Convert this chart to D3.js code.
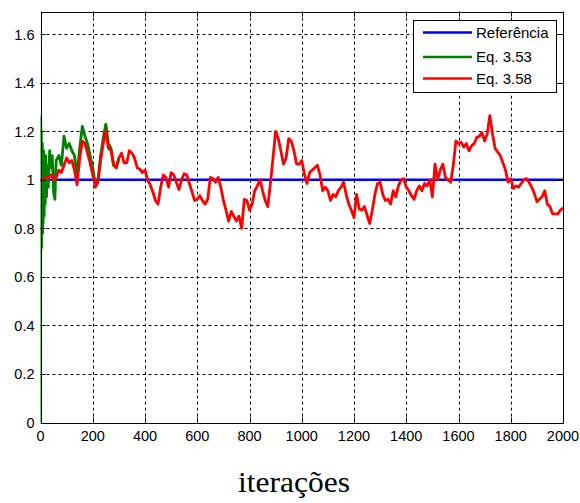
<!DOCTYPE html>
<html>
<head>
<meta charset="utf-8">
<script src="https://cdn.jsdelivr.net/npm/d3@7"></script>
<style>
  html, body { margin: 0; padding: 0; background: #fff; }
  svg { display: block; }
</style>
</head>
<body>
<svg id="chart" width="580" height="503"></svg>
<script>
// ---- data ----
const xTicks = [0, 200, 400, 600, 800, 1000, 1200, 1400, 1600, 1800, 2000];
const yTicks = [0, 0.2, 0.4, 0.6, 0.8, 1, 1.2, 1.4, 1.6];
const yTickLabels = ["0", "0.2", "0.4", "0.6", "0.8", "1", "1.2", "1.4", "1.6"];
const xDomain = [0, 2000];
const yDomain = [0, 1.693];
const seriesNames = ["Referência", "Eq. 3.53", "Eq. 3.58"];
const seriesColors = ["#0000ff", "#008000", "#ff0000"];
const xLabel = "iterações";

// reference
const refIter = [0, 2000];
const refVal = [1, 1];

// Eq. 3.58 (red), every 10 iterations from 0 to 2000
const redStep = 10;
const redVal = [
  1.00, 1.00, 1.01, 1.01, 1.02, 1.00, 1.01, 1.04, 1.03, 1.06,
  1.09, 1.07, 1.08, 1.04, 0.98, 1.09, 1.16, 1.15, 1.11, 1.07,
  1.02, 0.97, 0.99, 1.08, 1.15, 1.20, 1.13, 1.12, 1.06, 1.05,
  1.09, 1.11, 1.07, 1.07, 1.12, 1.11, 1.09, 1.05, 1.045, 1.03,
  1.04, 1.00, 0.98, 0.95, 0.915, 0.90, 0.97, 1.02, 1.01, 0.97,
  1.03, 1.02, 0.99, 0.96, 1.00, 1.025, 1.02, 0.985, 0.95, 0.915,
  0.92, 0.935, 0.915, 0.90, 0.92, 1.01, 1.005, 0.99, 1.01, 0.97,
  0.915, 0.875, 0.83, 0.87, 0.85, 0.83, 0.85, 0.80, 0.92, 0.915,
  0.875, 0.90, 0.955, 0.975, 1.00, 0.955, 0.915, 0.89, 0.985, 1.09,
  1.20, 1.17, 1.12, 1.065, 1.09, 1.17, 1.16, 1.12, 1.065, 1.065,
  1.08, 1.025, 0.985, 1.03, 1.04, 1.05, 1.06, 1.02, 0.955, 0.97,
  0.955, 0.915, 0.94, 0.93, 0.955, 0.97, 0.99, 0.94, 0.90, 0.875,
  0.845, 0.94, 0.88, 0.875, 0.89, 0.855, 0.82, 0.875, 0.94, 0.985,
  0.99, 0.94, 0.915, 0.92, 0.90, 0.955, 0.93, 0.975, 1.00, 1.005,
  0.97, 0.955, 0.935, 0.92, 0.955, 0.975, 0.955, 0.985, 0.975, 1.00,
  0.93, 1.065, 1.00, 1.04, 1.065, 1.01, 1.00, 0.99, 1.06, 1.16,
  1.15, 1.155, 1.135, 1.15, 1.12, 1.14, 1.15, 1.175, 1.18, 1.195,
  1.16, 1.19, 1.265, 1.19, 1.13, 1.115, 1.10, 1.07, 1.04, 0.99,
  1.005, 0.965, 0.975, 0.97, 0.985, 1.00, 1.005, 0.99, 0.97, 0.945,
  0.91, 0.92, 0.93, 0.955, 0.90, 0.89, 0.86, 0.86, 0.86, 0.875,
  0.885
];

// Eq. 3.53 (green) — transient part (after ~280 it coincides with red)
const greenIter = [0, 1, 2, 3, 4, 5, 6, 7, 8, 9, 10, 12, 14, 16, 18, 20, 23, 26, 30, 35,
  40, 45, 50, 55, 60, 70, 80, 90, 100, 110, 120, 130, 140, 150, 160, 170, 180, 190, 200,
  210, 220, 230, 240, 250, 260, 270, 280, 290, 300];
const greenVal = [0, 1.26, 0.75, 1.20, 0.72, 1.10, 0.80, 1.15, 0.78, 1.05, 0.82, 1.12, 0.85, 1.08, 0.90, 1.10, 0.93, 1.06, 0.97, 1.12,
  1.05, 1.10, 0.95, 0.92, 1.08, 1.10, 1.06, 1.18, 1.13, 1.15, 1.12, 1.10, 1.02, 1.13, 1.22, 1.18, 1.15, 1.10, 1.05,
  0.98, 1.00, 1.10, 1.17, 1.23, 1.15, 1.13, 1.06, 1.05, 1.09];

// ---- layout ----
const svg = d3.select("#chart");
const L = 40.5, R = 563, T = 11.7, B = 422.5;
const x = d3.scaleLinear().domain(xDomain).range([L, R]);
const y = d3.scaleLinear().domain(yDomain).range([B, T]);

svg.append("rect").attr("width", 580).attr("height", 503).attr("fill", "#fff");

// grid
const grid = svg.append("g").attr("stroke", "#000").attr("stroke-width", 1)
  .attr("stroke-dasharray", "3,3").attr("fill", "none");
xTicks.filter(t => t > xDomain[0] && t < xDomain[1]).forEach(t => {
  grid.append("line").attr("x1", Math.round(x(t)) + 0.5).attr("x2", Math.round(x(t)) + 0.5)
    .attr("y1", T).attr("y2", B);
});
yTicks.filter(t => t > 0).forEach(t => {
  grid.append("line").attr("y1", Math.round(y(t)) + 0.5).attr("y2", Math.round(y(t)) + 0.5)
    .attr("x1", L).attr("x2", R);
});

// data
svg.append("clipPath").attr("id", "clip").append("rect")
  .attr("x", L).attr("y", T).attr("width", R - L).attr("height", B - T);
const plot = svg.append("g").attr("clip-path", "url(#clip)");
const line = d3.line().x(d => x(d[0])).y(d => y(d[1]));

const refData = refIter.map((t, i) => [t, refVal[i]]);
const greenData = greenIter.map((t, i) => [t, greenVal[i]]);
const redData = redVal.map((v, i) => [i * redStep, v]);

plot.append("path").datum(refData).attr("d", line).attr("fill", "none")
  .attr("stroke", seriesColors[0]).attr("stroke-width", 2.5);
plot.append("path").datum(greenData).attr("d", line).attr("fill", "none")
  .attr("stroke", seriesColors[1]).attr("stroke-width", 2.8).attr("stroke-linejoin", "round");
plot.append("path").datum(redData).attr("d", line).attr("fill", "none")
  .attr("stroke", seriesColors[2]).attr("stroke-width", 2.8).attr("stroke-linejoin", "round");

// axes frame + ticks (MATLAB-style, inward)
const fr = svg.append("g").attr("stroke", "#000").attr("stroke-width", 1).attr("fill", "none");
fr.append("rect").attr("x", Math.round(L) + 0.5).attr("y", Math.round(T) + 0.5)
  .attr("width", Math.round(R) - Math.round(L)).attr("height", Math.round(B) - Math.round(T));
const tl = 5;
xTicks.forEach(t => {
  const px = Math.round(x(t)) + 0.5;
  fr.append("line").attr("x1", px).attr("x2", px).attr("y1", B).attr("y2", B - tl);
  fr.append("line").attr("x1", px).attr("x2", px).attr("y1", T).attr("y2", T + tl);
});
yTicks.forEach(t => {
  const py = Math.round(y(t)) + 0.5;
  fr.append("line").attr("y1", py).attr("y2", py).attr("x1", L).attr("x2", L + tl);
  fr.append("line").attr("y1", py).attr("y2", py).attr("x1", R).attr("x2", R - tl);
});

// tick labels
const font = "'Liberation Sans', Arial, Helvetica, sans-serif";
svg.append("g").selectAll("text").data(xTicks).join("text")
  .attr("x", d => x(d)).attr("y", 441)
  .attr("text-anchor", "middle").attr("font-family", font).attr("font-size", 14.5)
  .attr("fill", "#000").text(d => d);
svg.append("g").selectAll("text").data(yTicks).join("text")
  .attr("x", 34.5).attr("y", d => y(d) + 5.3)
  .attr("text-anchor", "end").attr("font-family", font).attr("font-size", 14.5)
  .attr("fill", "#000").text((d, i) => yTickLabels[i]);

// x label
svg.append("text").attr("x", 294).attr("y", 492).attr("text-anchor", "middle")
  .attr("font-family", "'Liberation Serif', 'Times New Roman', serif").attr("font-size", 29)
  .attr("textLength", 112).attr("lengthAdjust", "spacingAndGlyphs")
  .attr("fill", "#000").text(xLabel);

// legend
const lg = svg.append("g");
lg.append("rect").attr("x", 413.5).attr("y", 20.5).attr("width", 143).attr("height", 72)
  .attr("fill", "#fff").attr("stroke", "#000").attr("stroke-width", 1);
const rowsY = [32.5, 57, 78.5];
seriesNames.forEach((n, i) => {
  lg.append("line").attr("x1", 423).attr("x2", 472).attr("y1", rowsY[i]).attr("y2", rowsY[i])
    .attr("stroke", seriesColors[i]).attr("stroke-width", 2.5);
  lg.append("text").attr("x", 476).attr("y", rowsY[i] + 5.3)
    .attr("font-family", font).attr("font-size", 15).attr("fill", "#000").text(n);
});
</script>
</body>
</html>
